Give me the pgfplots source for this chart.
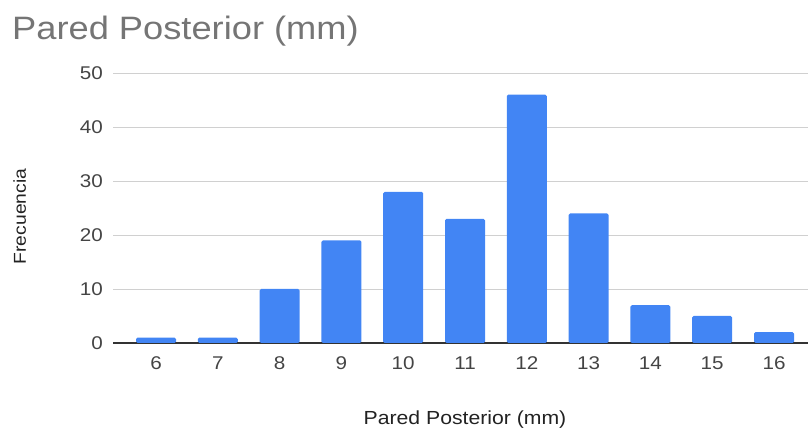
\documentclass[border=0pt]{standalone}
\usepackage{fontspec}
\setmainfont{Liberation Sans}[FakeStretch=1.12]
\usepackage{pgfplots}
\pgfplotsset{compat=1.18}
\definecolor{barblue}{HTML}{4285F4}
\definecolor{titlegray}{HTML}{757575}
\definecolor{ticktext}{HTML}{444444}
\definecolor{labeltext}{HTML}{222222}
\definecolor{gridgray}{HTML}{D0D0D0}
\definecolor{baseline}{HTML}{333333}

\begin{document}
\begin{tikzpicture}
\useasboundingbox (-113bp,-87bp) rectangle (695bp,343bp);
\begin{axis}[
    at={(0,0)}, anchor=south west,
    scale only axis, width=695bp, height=270bp,
    ybar, bar width=40bp,
    xmin=5.304, xmax=16.55,
    ymin=0, ymax=50,
    xtick={6,...,16},
    ytick={0,10,...,50},
    axis x line=bottom, axis y line=left,
    x axis line style={-, draw=baseline, line width=1.2bp},
    y axis line style={draw=none},
    major tick length=0pt,
    ymajorgrids=true,
    grid style={gridgray, line width=0.9bp},
    /pgf/number format/assume math mode=true,
    ticklabel style={font=\fontsize{18.5}{18.5}\selectfont, text=ticktext, inner sep=0pt},
    xticklabel style={anchor=base, yshift=-26.5bp},
    yticklabel style={anchor=east, xshift=-10bp},
]
\addplot[fill=barblue, draw=none, rounded corners=1.5bp] coordinates {
    (6,1) (7,1) (8,10) (9,19) (10,28) (11,23)
    (12,46) (13,24) (14,7) (15,5) (16,2)
};
\end{axis}
\node[anchor=north west, inner sep=0pt, text=titlegray,
      font=\fontsize{32.5}{32.5}\selectfont] at (-101bp,327bp) {Pared Posterior (mm)};
\node[anchor=base, inner sep=0pt, text=labeltext,
      font=\fontsize{19}{19}\selectfont] at (352bp,-81bp) {Pared Posterior (mm)};
\node[anchor=base, rotate=90, inner sep=0pt, text=labeltext,
      font=\fontsize{17.3}{17.3}\selectfont] at (-87bp,126.5bp) {Frecuencia};
\end{tikzpicture}
\end{document}
